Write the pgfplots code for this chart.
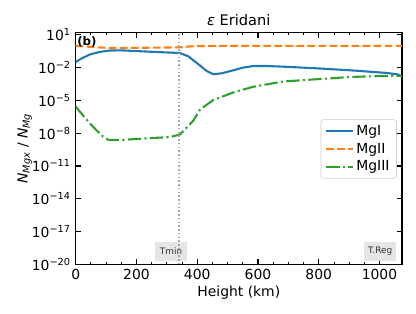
\documentclass[border=0pt]{standalone}
\usepackage{fontspec}
\setmainfont{DejaVu Sans}
\usepackage{pgfplots}
\pgfplotsset{compat=1.18}
\definecolor{tabblue}{HTML}{1F77B4}
\definecolor{taborange}{HTML}{FF7F0E}
\definecolor{tabgreen}{HTML}{2CA02C}
\definecolor{boxgray}{HTML}{E5E5E5}
\begin{document}
\begin{tikzpicture}
\begin{axis}[
  scale only axis, width=234.9pt, height=166.8pt,
  at={(0,0)}, anchor=south west, clip mode=individual,
  xmin=0, xmax=1074, ymode=log, ymin=1e-20, ymax=16,
  xtick={0,200,...,1000}, minor x tick num=3,
  ytick={1e-20,1e-17,1e-14,1e-11,1e-8,1e-5,1e-2,1e1},
  yticklabels={10\textsuperscript{−20},10\textsuperscript{−17},10\textsuperscript{−14},10\textsuperscript{−11},10\textsuperscript{−8},10\textsuperscript{−5},10\textsuperscript{−2},10\textsuperscript{1}},
  yminorticks=false,
  tick align=inside, major tick length=3.5pt, minor tick length=2pt,
  every tick/.style={black, line width=0.8pt},
  minor tick style={line width=0.6pt},
  axis line style={line width=0.8pt},
  /pgf/number format/assume math mode=true,
  /pgf/number format/1000 sep={},
  ticklabel style={font=\fontsize{10}{12}\selectfont},
  xlabel={Height (km)},
  xlabel style={at={(axis description cs:0.5,-0.140)}, anchor=base, font=\fontsize{10}{12}\selectfont},
  ylabel={{\itshape N\textsubscript{Mgx}} / {\itshape N\textsubscript{Mg}}},
  ylabel style={at={(axis description cs:-0.1477,0.5)}, anchor=base, rotate=0, font=\fontsize{10}{12}\selectfont},
  legend cell align=left,
  legend style={at={(0.984,0.626)}, anchor=north east, draw=black!20, rounded corners=2pt,
    fill=white, fill opacity=0.8, text opacity=1, font=\fontsize{10}{12}\selectfont,
    inner xsep=3pt, inner ysep=2pt},
  legend image code/.code={\draw[#1] (0pt,0pt) -- (19pt,0pt);},
]
\addplot[tabblue, line width=1.5pt] coordinates {
(0,3.3e-2) (20,7.1e-2) (47,0.162) (80,0.28) (113,0.37) (150,0.38) (200,0.33)
(260,0.275) (310,0.24) (343,0.214) (370,0.112) (400,0.025) (431,5.0e-3)
(453,2.5e-3) (480,3.0e-3) (519,5.75e-3) (550,1e-2) (585,1.41e-2) (630,1.41e-2)
(683,1.23e-2) (793,8.7e-3) (903,5.75e-3) (1023,3.3e-3) (1060,2.4e-3) (1074,1.6e-3)
};
\addlegendentry{MgI}
\addplot[taborange, line width=1.5pt, dash pattern=on 5.55pt off 2.4pt] coordinates {
(0,0.97) (20,0.92) (47,0.80) (80,0.70) (113,0.63) (200,0.65) (300,0.70) (343,0.72)
(370,0.85) (400,0.95) (450,0.99) (1074,0.99)
};
\addlegendentry{MgII}
\addplot[tabgreen, line width=1.5pt, dash pattern=on 9.6pt off 2.4pt on 1.5pt off 2.4pt] coordinates {
(0,2.7e-6) (25,4e-7) (50,6.3e-8) (69,1.8e-8) (90,5e-9) (107,2.5e-9) (157,2.5e-9)
(256,3.7e-9) (310,4.4e-9) (343,7.6e-9) (365,3.2e-8) (387,1.4e-7) (409,1.4e-6)
(431,4e-6) (453,1.1e-5) (519,5.4e-5) (585,1.8e-4) (683,5.4e-4) (793,8.7e-4)
(903,1.4e-3) (1023,1.8e-3) (1074,1.8e-3)
};
\addlegendentry{MgIII}
\node[fill=boxgray, minimum width=23pt, minimum height=13.7pt, inner sep=0pt,
  font=\fontsize{6.4}{7}\selectfont, text=black!80] at (axis cs:314,1.6e-19) {Tmin};
\node[fill=boxgray, minimum width=23pt, minimum height=13.7pt, inner sep=0pt,
  font=\fontsize{6.4}{7}\selectfont, text=black!80] at (axis cs:1002,1.6e-19) {T.Reg};
\addplot[gray!70, line width=1pt, dash pattern=on 1pt off 1.7pt, forget plot] coordinates {(340,1e-20) (340,16)};
\node[anchor=north west, inner sep=0pt, font=\fontsize{8.5}{10}\selectfont\bfseries] at (rel axis cs:0.004,0.985) {(b)};
\node[anchor=base, inner sep=0pt, font=\fontsize{10.5}{12}\selectfont] at (rel axis cs:0.5,1.032) {{\itshape ε} Eridani};
\end{axis}
\pgfresetboundingbox
\useasboundingbox (-54.5pt,-35.1pt) rectangle (245pt,190.3pt);
\end{tikzpicture}
\end{document}
